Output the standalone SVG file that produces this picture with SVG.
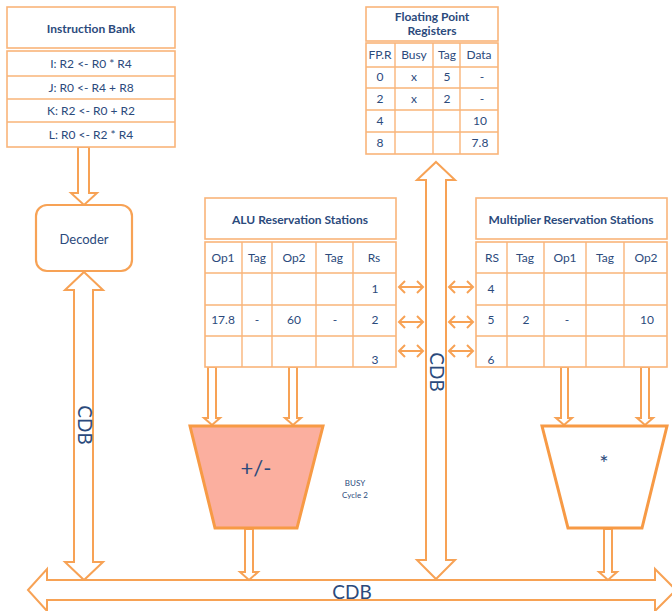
<svg xmlns="http://www.w3.org/2000/svg" width="672" height="611" viewBox="0 0 672 611">
<style>
.box{fill:#fff;stroke:#F9B57A;stroke-width:1.6}
.ln{stroke:#F9B57A;stroke-width:1.4;fill:none}
.arr{fill:#fff;stroke:#F7A255;stroke-width:2;stroke-linejoin:miter}
.dbl{fill:none;stroke:#F7A255;stroke-width:2}
.t{font-family:Lato,"Open Sans",sans-serif;font-size:12px;fill:#2B4A7C;text-anchor:middle}
.b{font-family:Lato,"Open Sans",sans-serif;font-size:12px;font-weight:bold;fill:#2B4A7C;text-anchor:middle}
.big{font-family:Lato,"Open Sans",sans-serif;font-size:19px;fill:#2B4A7C;text-anchor:middle}
.fu{stroke:#F79A45;stroke-width:3}
</style>

<g id="connectors">
  <polygon class="arr" points="78,147 89,147 89,193 97,193 84,205 71,193 78,193"/>
  <polygon class="arr" points="84,272 103,290 93,290 93,562 103,562 84,580 65,562 74,562 74,290 65,290"/>
  <text class="big" transform="translate(78,425) rotate(90)">CDB</text>
  <polygon class="arr" points="436,162 455,180 446,180 446,560 455,560 436,579 417,560 426,560 426,180 417,180"/>
  <text class="big" transform="translate(430,372) rotate(90)">CDB</text>
  <polygon class="arr" points="28,590 47,569 47,580 655,580 655,569 676,590 655,611 655,600 47,600 47,611"/>
  <text class="big" x="352" y="599">CDB</text>
  <polygon class="arr" points="208,367 216,367 216,418 220,418 212,425 204,418 208,418"/>
  <polygon class="arr" points="289,367 297,367 297,418 301,418 293,425 285,418 289,418"/>
  <polygon class="arr" points="561,367 568,367 568,418 572,418 564,425 556,418 561,418"/>
  <polygon class="arr" points="641,367 649,367 649,418 653,418 645,425 637,418 641,418"/>
  <polygon class="arr" points="245,529 253,529 253,572 258,572 249,580 240,572 245,572"/>
  <polygon class="arr" points="604,529 612,529 612,572 617,572 608,580 599,572 604,572"/>
  <path class="dbl" d="M399,287 H423 M405,281 L399,287 L405,293 M417,281 L423,287 L417,293"/>
  <path class="dbl" d="M399,322 H423 M405,316 L399,322 L405,328 M417,316 L423,322 L417,328"/>
  <path class="dbl" d="M399,351 H423 M405,345 L399,351 L405,357 M417,345 L423,351 L417,357"/>
  <path class="dbl" d="M449,287 H473 M455,281 L449,287 L455,293 M467,281 L473,287 L467,293"/>
  <path class="dbl" d="M449,322 H473 M455,316 L449,322 L455,328 M467,316 L473,322 L467,328"/>
  <path class="dbl" d="M449,351 H473 M455,345 L449,351 L455,357 M467,345 L473,351 L467,357"/>
</g>

<g id="instruction-bank">
  <rect class="box" x="7" y="7" width="168" height="41"/>
  <text class="b" x="91" y="33">Instruction Bank</text>
  <rect class="box" x="7" y="51" width="168" height="96"/>
  <path class="ln" d="M7,76 H175 M7,99 H175 M7,122 H175"/>
  <text class="t" x="91" y="68">I: R2 &lt;- R0 * R4</text>
  <text class="t" x="91" y="92">J: R0 &lt;- R4 + R8</text>
  <text class="t" x="91" y="115">K: R2 &lt;- R0 + R2</text>
  <text class="t" x="91" y="139">L: R0 &lt;- R2 * R4</text>
</g>

<g id="decoder">
  <rect x="36" y="205" width="96" height="66" rx="11" fill="#fff" stroke="#F7A255" stroke-width="2.2"/>
  <text class="t" x="84" y="244" style="font-size:13px">Decoder</text>
</g>

<g id="fp-registers">
  <rect class="box" x="366" y="7" width="132" height="34"/>
  <text class="b" x="432" y="21">Floating Point</text>
  <text class="b" x="432" y="35">Registers</text>
  <rect class="box" x="366" y="43" width="132" height="111"/>
  <path class="ln" d="M366,67 H498 M366,88 H498 M366,110 H498 M366,132 H498 M395,43 V154 M433,43 V154 M460,43 V154"/>
  <text class="t" x="380" y="59">FP.R</text>
  <text class="t" x="414" y="59">Busy</text>
  <text class="t" x="447" y="59">Tag</text>
  <text class="t" x="479" y="59">Data</text>
  <text class="t" x="380" y="81">0</text><text class="t" x="414" y="81">x</text><text class="t" x="447" y="81">5</text><text class="t" x="482" y="81">-</text>
  <text class="t" x="380" y="103">2</text><text class="t" x="414" y="103">x</text><text class="t" x="447" y="103">2</text><text class="t" x="482" y="103">-</text>
  <text class="t" x="380" y="125">4</text><text class="t" x="480" y="125">10</text>
  <text class="t" x="380" y="147">8</text><text class="t" x="480" y="147">7.8</text>
</g>

<g id="alu-rs">
  <rect class="box" x="205" y="198" width="191" height="41"/>
  <text class="b" x="300" y="224">ALU Reservation Stations</text>
  <rect class="box" x="205" y="242" width="191" height="125"/>
  <path class="ln" d="M205,273 H396 M205,305 H396 M205,336 H396 M242,242 V367 M272,242 V367 M316,242 V367 M353,242 V367"/>
  <text class="t" x="223" y="262">Op1</text>
  <text class="t" x="257" y="262">Tag</text>
  <text class="t" x="294" y="262">Op2</text>
  <text class="t" x="334" y="262">Tag</text>
  <text class="t" x="374" y="262">Rs</text>
  <text class="t" x="375" y="293">1</text>
  <text class="t" x="223" y="324">17.8</text><text class="t" x="257" y="324">-</text><text class="t" x="294" y="324">60</text><text class="t" x="335" y="324">-</text><text class="t" x="375" y="324">2</text>
  <text class="t" x="375" y="364">3</text>
</g>

<g id="mult-rs">
  <rect class="box" x="476" y="198" width="191" height="41"/>
  <text class="b" x="571" y="224">Multiplier Reservation Stations</text>
  <rect class="box" x="476" y="242" width="191" height="125"/>
  <path class="ln" d="M476,273 H667 M476,305 H667 M476,336 H667 M507,242 V367 M544,242 V367 M586,242 V367 M624,242 V367"/>
  <text class="t" x="492" y="262">RS</text>
  <text class="t" x="525" y="262">Tag</text>
  <text class="t" x="565" y="262">Op1</text>
  <text class="t" x="605" y="262">Tag</text>
  <text class="t" x="646" y="262">Op2</text>
  <text class="t" x="491" y="293">4</text>
  <text class="t" x="491" y="324">5</text><text class="t" x="526" y="324">2</text><text class="t" x="567" y="324">-</text><text class="t" x="647" y="324">10</text>
  <text class="t" x="491" y="364">6</text>
</g>

<g id="adder">
  <polygon class="fu" points="190,426 323,426 297,528 215,528" fill="#FBAF9F"/>
  <text class="t" x="256" y="476" style="font-size:22px">+/-</text>
  <text class="t" x="355" y="486" style="font-size:8px">BUSY</text>
  <text class="t" x="355" y="498" style="font-size:8px">Cycle 2</text>
</g>

<g id="multiplier">
  <polygon class="fu" points="542,426 667,426 642,528 568,528" fill="#fff"/>
  <text class="t" x="604" y="471" style="font-size:22px">*</text>
</g>
</svg>
